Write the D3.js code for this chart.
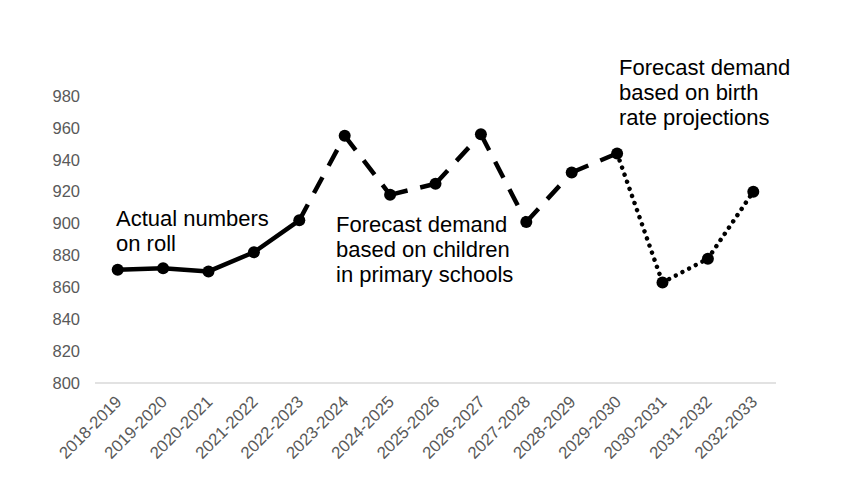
<!DOCTYPE html>
<html>
<head>
<meta charset="utf-8">
<script src="https://cdn.jsdelivr.net/npm/d3@7"></script>
<style>
  body { margin: 0; background: #fff; }
  text { font-family: "Liberation Sans", Arial, sans-serif; }
</style>
</head>
<body>
<script>
// school years on the x axis
var years = ["2018-2019","2019-2020","2020-2021","2021-2022","2022-2023","2023-2024",
  "2024-2025","2025-2026","2026-2027","2027-2028","2028-2029","2029-2030",
  "2030-2031","2031-2032","2032-2033"];

// actual numbers on roll (2018-2019 .. 2022-2023)
var actualRoll = [871, 872, 870, 882, 902];
// forecast from children in primary schools (2022-2023 .. 2029-2030)
var primaryForecast = [902, 955, 918, 925, 956, 901, 932, 944];
// forecast from birth rate projections (2029-2030 .. 2032-2033)
var birthForecast = [944, 863, 878, 920];

var yTicks = [800, 820, 840, 860, 880, 900, 920, 940, 960, 980];

var width = 850, height = 502;

var svg = d3.select("body").append("svg")
    .attr("width", width)
    .attr("height", height);

var x = d3.scalePoint()
    .domain(years)
    .range([95, 776])
    .padding(0.5);

var y = d3.scaleLinear()
    .domain([800, 980])
    .range([383, 96]);

// y tick labels (no axis line in the original)
svg.selectAll(".ylab")
    .data(yTicks)
    .enter().append("text")
    .attr("class", "ylab")
    .attr("x", 80)
    .attr("y", function(d){ return y(d); })
    .attr("dy", "0.35em")
    .attr("text-anchor", "end")
    .attr("fill", "#595959")
    .style("font-size", "16.5px")
    .text(function(d){ return d; });

// bottom axis line
svg.append("line")
    .attr("x1", 95).attr("x2", 776)
    .attr("y1", y(800)).attr("y2", y(800))
    .attr("stroke", "#d9d9d9")
    .attr("stroke-width", 1.5);

// rotated category labels
svg.selectAll(".xlab")
    .data(years)
    .enter().append("text")
    .attr("class", "xlab")
    .attr("transform", function(d){ return "translate(" + (x(d) + 5) + ",403) rotate(-45)"; })
    .attr("text-anchor", "end")
    .attr("fill", "#595959")
    .style("font-size", "16.8px")
    .text(function(d){ return d; });

// turn a value list + starting year index into points
function toPoints(vals, start){
    return vals.map(function(v, i){ return {year: years[start + i], value: v}; });
}

var series = [
    {pts: toPoints(actualRoll, 0), dash: null, cap: "round"},
    {pts: toPoints(primaryForecast, 4), dash: "18,13", cap: "butt"},
    {pts: toPoints(birthForecast, 11), dash: "0.01,7.5", cap: "round"}
];

// each segment drawn on its own so the dash pattern restarts at every point (like Excel)
series.forEach(function(s){
    var segs = d3.pairs(s.pts);
    svg.selectAll(null)
        .data(segs)
        .enter().append("line")
        .attr("x1", function(d){ return x(d[0].year); })
        .attr("y1", function(d){ return y(d[0].value); })
        .attr("x2", function(d){ return x(d[1].year); })
        .attr("y2", function(d){ return y(d[1].value); })
        .attr("stroke", "#000")
        .attr("stroke-width", 4.5)
        .attr("stroke-linecap", s.cap)
        .attr("stroke-dasharray", s.dash);
});

// markers
var allPts = toPoints(actualRoll, 0)
    .concat(toPoints(primaryForecast, 4).slice(1))
    .concat(toPoints(birthForecast, 11).slice(1));

svg.selectAll(".dot")
    .data(allPts)
    .enter().append("circle")
    .attr("class", "dot")
    .attr("cx", function(d){ return x(d.year); })
    .attr("cy", function(d){ return y(d.value); })
    .attr("r", 6)
    .attr("fill", "#000");

// annotations
var notes = [
    {x: 116, y: 226, lines: ["Actual numbers", "on roll"]},
    {x: 336, y: 232, lines: ["Forecast demand", "based on children", "in primary schools"]},
    {x: 619, y: 75, lines: ["Forecast demand", "based on birth", "rate projections"]}
];

notes.forEach(function(n){
    var t = svg.append("text")
        .attr("x", n.x)
        .attr("y", n.y)
        .attr("fill", "#000")
        .style("font-size", "22px");
    n.lines.forEach(function(l, i){
        t.append("tspan")
            .attr("x", n.x)
            .attr("dy", i === 0 ? 0 : 25)
            .text(l);
    });
});
</script>
</body>
</html>
